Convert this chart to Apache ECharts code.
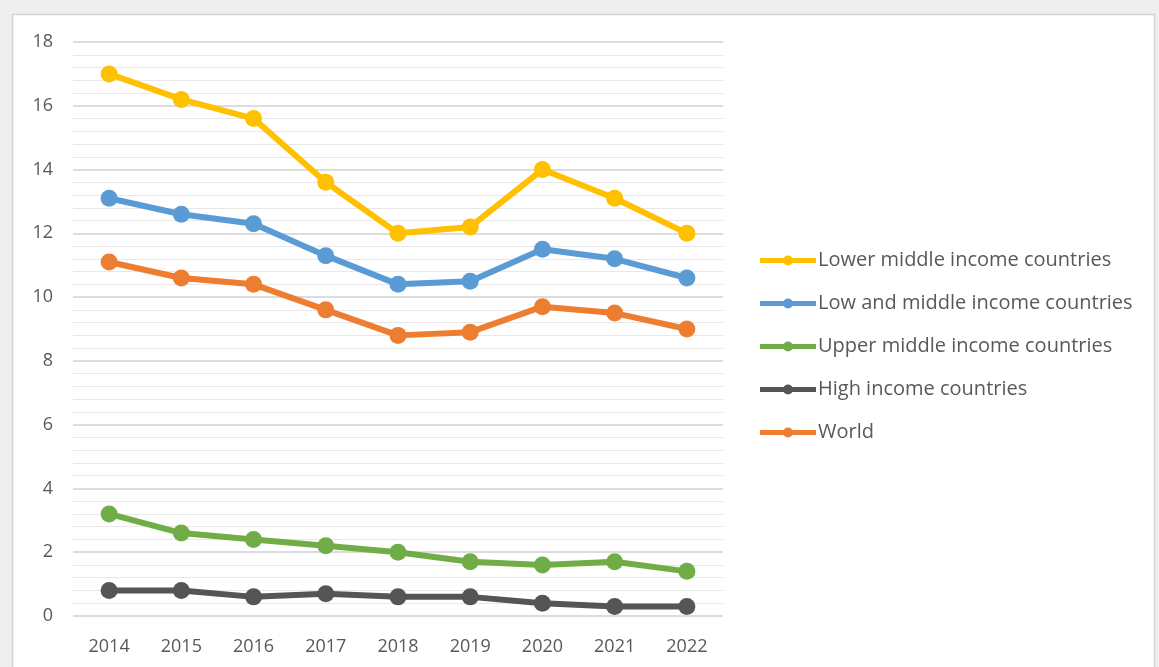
<!DOCTYPE html>
<html>
<head>
<meta charset="utf-8">
<script src="https://cdn.jsdelivr.net/npm/echarts@6/dist/echarts.min.js"></script>
<style>
html,body{margin:0;padding:0;background:#efefef;}
#c{width:1159px;height:667px;}
</style>
</head>
<body>
<div id="c"></div>
<script>
const years = ['2014','2015','2016','2017','2018','2019','2020','2021','2022'];
const lowerMiddle = [17.0, 16.2, 15.6, 13.6, 12.0, 12.2, 14.0, 13.1, 12.0];
const lowAndMiddle = [13.1, 12.6, 12.3, 11.3, 10.4, 10.5, 11.5, 11.2, 10.6];
const upperMiddle = [3.2, 2.6, 2.4, 2.2, 2.0, 1.7, 1.6, 1.7, 1.4];
const highIncome = [0.8, 0.8, 0.6, 0.7, 0.6, 0.6, 0.4, 0.3, 0.3];
const world = [11.1, 10.6, 10.4, 9.6, 8.8, 8.9, 9.7, 9.5, 9.0];
const seriesNames = ['Lower middle income countries','Low and middle income countries','Upper middle income countries','High income countries','World'];
const seriesColors = ['#FFC000','#5B9BD5','#70AD47','#555555','#ED7D31'];
const seriesData = [lowerMiddle, lowAndMiddle, upperMiddle, highIncome, world];

const chart = echarts.init(document.getElementById('c'), null, {renderer:'canvas'});
const font = 'Open Sans, Liberation Sans, Arial, sans-serif';
const legendIcon = 'path://M0,4.5 L56,4.5 L56,9.5 L0,9.5 Z M33,7 A5,5 0 1,1 23,7 A5,5 0 1,1 33,7 Z';
chart.setOption({
  animation:false,
  backgroundColor:'transparent',
  graphic:[{type:'rect', z:-10, silent:true, shape:{x:12.5,y:14.5,width:1142,height:700},
    style:{fill:'#ffffff', stroke:'#d4d4d4', lineWidth:1.5}}],
  grid:{left:73, right:436, top:42, bottom:51},
  legend:{
    orient:'vertical', left:760, top:247, padding:0, itemGap:16, itemWidth:56, itemHeight:10,
    icon:legendIcon,
    textStyle:{color:'#595959', fontSize:20, fontFamily:font, padding:[0,0,0,-3], lineHeight:27},
    data:seriesNames
  },
  xAxis:{
    type:'category', data:years, boundaryGap:true,
    axisLine:{show:false}, axisTick:{show:false},
    axisLabel:{color:'#595959', fontSize:18, fontFamily:font, margin:22}
  },
  yAxis:{
    type:'value', min:0, max:18, interval:2,
    axisLine:{show:false}, axisTick:{show:false},
    axisLabel:{color:'#595959', fontSize:18, fontFamily:font, margin:20},
    splitLine:{lineStyle:{color:'#d0d0d0', width:1.5}},
    minorTick:{show:false, splitNumber:5},
    minorSplitLine:{show:true, lineStyle:{color:'#e8e8e8', width:1.2}}
  },
  series: seriesNames.map((n,i)=>({
    name:n, type:'line', data:seriesData[i],
    symbol:'circle', symbolSize:17,
    lineStyle:{width:6, color:seriesColors[i]},
    itemStyle:{color:seriesColors[i]},
    z: 10 - i
  }))
});
</script>
</body>
</html>
